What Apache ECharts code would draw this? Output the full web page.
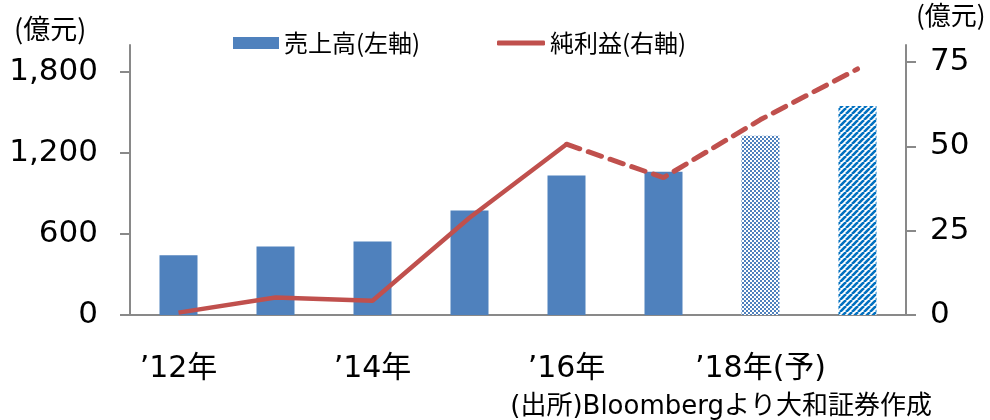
<!DOCTYPE html>
<html><head><meta charset="utf-8">
<script src="https://cdn.jsdelivr.net/npm/echarts@6/dist/echarts.min.js"></script>
<style>html,body{margin:0;padding:0;background:#fff}#c{width:990px;height:420px}</style>
</head><body><div id="c"></div>
<script>
const categories = ['\u201912年','\u201913年','\u201914年','\u201915年','\u201916年','\u201917年','\u201918年(予)','\u201919年(予)'];
const sales = [443, 507, 544, 775, 1033, 1062, 1328, 1549];
const profit = [0.7, 5.2, 4.2, 28.8, 50.6, 40.7, 57.9, 72.9];
const leftTicks = [0, 600, 1200, 1800];
const rightTicks = [0, 25, 50, 75];
const forecastFrom = 4; // dashed line starts at '16

const FONT = '"Noto Sans CJK JP","Noto Sans",sans-serif';
const NUMFONT = '"DejaVu Sans","Noto Sans CJK JP",sans-serif';

function checker() {
  const c = document.createElement('canvas'); c.width = 4; c.height = 4;
  const g = c.getContext('2d');
  g.fillStyle = '#fff'; g.fillRect(0,0,4,4);
  g.fillStyle = '#4F81BD';
  g.fillRect(0,0,2,2); g.fillRect(2,2,2,2);
  return c;
}
function stripes() {
  const s = 6;
  const c = document.createElement('canvas'); c.width = s; c.height = s;
  const g = c.getContext('2d');
  g.fillStyle = '#fff'; g.fillRect(0,0,s,s);
  g.strokeStyle = '#0070C0'; g.lineWidth = 2.6;
  for (const o of [-s, 0, s]) {
    g.beginPath(); g.moveTo(o, s); g.lineTo(o + s, 0); g.stroke();
  }
  return c;
}

const barData = sales.map((v, i) => {
  if (i === 6) return { value: v, itemStyle: { color: { image: checker(), repeat: 'repeat' } } };
  if (i === 7) return { value: v, itemStyle: { color: { image: stripes(), repeat: 'repeat' } } };
  return v;
});
const solidData = profit.map((v, i) => i <= forecastFrom ? v : '-');
const dashData = profit.map((v, i) => i >= forecastFrom ? v : '-');

const chart = echarts.init(document.getElementById('c'));
const axisCol = '#898989';
chart.setOption({
  animation: false,
  textStyle: { fontFamily: FONT },
  grid: { left: 130, right: 84, top: 45, bottom: 105, containLabel: false },
  legend: [
    { left: 233, top: 31, padding: 0, itemWidth: 46, itemHeight: 12, itemGap: 4,
      textStyle: { fontSize: 24, color: '#000', fontFamily: FONT }, data: [{ name: '売上高(左軸)', icon: 'rect' }] },
    { left: 497, top: 31, padding: 0, itemWidth: 48, itemHeight: 5,
      textStyle: { fontSize: 24, color: '#000', fontFamily: FONT }, data: [{ name: '純利益(右軸)', icon: 'roundRect' }] }
  ],
  xAxis: {
    type: 'category', data: categories, boundaryGap: true,
    axisLine: { lineStyle: { color: axisCol, width: 2 } },
    axisTick: { interval: 1, length: 10, lineStyle: { color: axisCol, width: 2 } },
    axisLabel: { interval: 1, fontSize: 30, color: '#000', margin: 39, fontFamily: NUMFONT }
  },
  yAxis: [
    { type: 'value', min: 0, max: 2000, position: 'left',
      axisLine: { show: true, lineStyle: { color: axisCol, width: 2 } },
      axisTick: { show: true, length: 10, customValues: leftTicks, lineStyle: { color: axisCol, width: 2 } },
      axisLabel: { customValues: leftTicks, fontSize: 31, color: '#000', margin: 32, fontFamily: NUMFONT,
        formatter: v => v.toLocaleString('en-US') },
      splitLine: { show: false } },
    { type: 'value', min: 0, max: 80, position: 'right',
      axisLine: { show: true, lineStyle: { color: axisCol, width: 2 } },
      axisTick: { show: true, length: 10, customValues: rightTicks, lineStyle: { color: axisCol, width: 2 } },
      axisLabel: { customValues: rightTicks, fontSize: 31, color: '#000', margin: 24, fontFamily: NUMFONT },
      splitLine: { show: false } }
  ],
  graphic: [
    { type: 'text', left: 14, top: 15, style: { text: '(億元)', font: '27px ' + FONT, fill: '#000' } },
    { type: 'text', left: 916, top: 2, style: { text: '(億元)', font: '26px ' + FONT, fill: '#000' } },
    { type: 'text', right: 58, top: 394, style: { text: '(出所)Bloombergより大和証券作成', font: '26px ' + NUMFONT, fill: '#000' } }
  ],
  series: [
    { name: '売上高(左軸)', type: 'bar', data: barData, barWidth: 38, yAxisIndex: 0,
      itemStyle: { color: '#4F81BD' } },
    { name: '純利益(右軸)', type: 'line', data: solidData, yAxisIndex: 1, symbol: 'none',
      lineStyle: { color: '#C0504D', width: 4.5 }, itemStyle: { color: '#C0504D' } },
    { name: 'forecast', type: 'line', data: dashData, yAxisIndex: 1, symbol: 'none',
      lineStyle: { color: '#C0504D', width: 5, type: [14, 9], cap: 'round' }, itemStyle: { color: '#C0504D' } }
  ]
});
</script></body></html>
